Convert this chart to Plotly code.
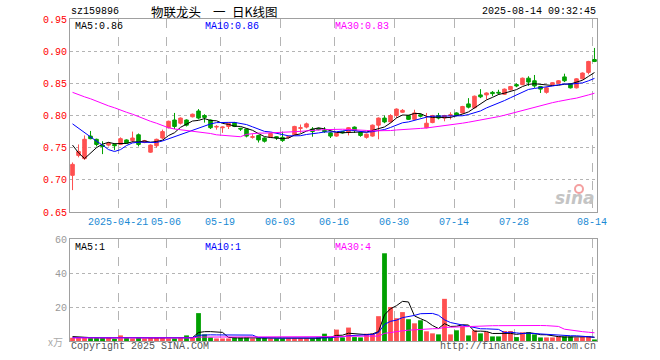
import plotly.graph_objects as go
import pandas as pd

# ---------------- data ----------------
tick_index = [8, 16, 25, 35, 44, 54, 64, 74, 87]
tick_labels = ["2025-04-21", "05-06", "05-19", "06-03", "06-16", "06-30", "07-14", "07-28", "08-14"]

opens = [0.707, 0.738, 0.733, 0.768, 0.763, 0.754, 0.754, 0.755, 0.755, 0.762,
         0.761, 0.770, 0.758, 0.743, 0.753, 0.765, 0.781, 0.793, 0.788, 0.793,
         0.798, 0.807, 0.800, 0.793, 0.782, 0.781, 0.783, 0.789, 0.780, 0.779,
         0.766, 0.769, 0.765, 0.766, 0.767, 0.766, 0.766, 0.770, 0.780, 0.782,
         0.779, 0.780, 0.777, 0.773, 0.768, 0.775, 0.774, 0.782, 0.774, 0.766,
         0.768, 0.785, 0.796, 0.790, 0.800, 0.805, 0.800, 0.794, 0.801, 0.781,
         0.789, 0.800, 0.796, 0.800, 0.804, 0.804, 0.818, 0.812, 0.832, 0.832,
         0.836, 0.836, 0.833, 0.840, 0.848, 0.848, 0.858, 0.854, 0.845, 0.836,
         0.848, 0.850, 0.860, 0.849, 0.843, 0.857, 0.867, 0.887]
highs = [0.727, 0.755, 0.769, 0.776, 0.764, 0.760, 0.759, 0.757, 0.766, 0.763,
         0.775, 0.772, 0.762, 0.755, 0.764, 0.778, 0.792, 0.804, 0.797, 0.794,
         0.803, 0.810, 0.802, 0.794, 0.785, 0.783, 0.789, 0.790, 0.781, 0.780,
         0.771, 0.770, 0.766, 0.773, 0.768, 0.775, 0.769, 0.784, 0.786, 0.789,
         0.782, 0.781, 0.782, 0.774, 0.773, 0.776, 0.782, 0.783, 0.775, 0.772,
         0.786, 0.797, 0.800, 0.802, 0.811, 0.810, 0.801, 0.809, 0.803, 0.804,
         0.801, 0.804, 0.801, 0.805, 0.805, 0.815, 0.827, 0.831, 0.841, 0.836,
         0.838, 0.840, 0.842, 0.846, 0.850, 0.859, 0.861, 0.863, 0.846, 0.844,
         0.852, 0.855, 0.865, 0.850, 0.858, 0.867, 0.885, 0.905]
lows = [0.684, 0.735, 0.731, 0.763, 0.752, 0.740, 0.752, 0.746, 0.754, 0.756,
        0.758, 0.752, 0.757, 0.742, 0.750, 0.763, 0.780, 0.779, 0.786, 0.783,
        0.797, 0.794, 0.789, 0.779, 0.778, 0.773, 0.779, 0.782, 0.776, 0.766,
        0.764, 0.758, 0.758, 0.765, 0.762, 0.759, 0.764, 0.769, 0.773, 0.780,
        0.767, 0.777, 0.773, 0.765, 0.767, 0.772, 0.769, 0.773, 0.767, 0.764,
        0.767, 0.763, 0.788, 0.789, 0.796, 0.804, 0.793, 0.793, 0.797, 0.780,
        0.788, 0.794, 0.791, 0.794, 0.799, 0.803, 0.811, 0.811, 0.827, 0.825,
        0.830, 0.832, 0.832, 0.839, 0.844, 0.847, 0.846, 0.843, 0.835, 0.834,
        0.847, 0.849, 0.852, 0.842, 0.842, 0.856, 0.864, 0.883]
closes = [0.724, 0.744, 0.763, 0.764, 0.755, 0.752, 0.757, 0.753, 0.764, 0.757,
          0.765, 0.755, 0.761, 0.754, 0.763, 0.775, 0.791, 0.783, 0.796, 0.785,
          0.802, 0.796, 0.797, 0.781, 0.783, 0.782, 0.788, 0.783, 0.779, 0.768,
          0.767, 0.762, 0.760, 0.772, 0.765, 0.761, 0.767, 0.783, 0.781, 0.787,
          0.775, 0.778, 0.775, 0.768, 0.772, 0.773, 0.781, 0.777, 0.769, 0.771,
          0.785, 0.796, 0.790, 0.800, 0.810, 0.808, 0.794, 0.804, 0.799, 0.788,
          0.800, 0.796, 0.800, 0.801, 0.800, 0.814, 0.813, 0.830, 0.829, 0.835,
          0.834, 0.835, 0.841, 0.845, 0.846, 0.858, 0.852, 0.846, 0.841, 0.843,
          0.851, 0.854, 0.854, 0.843, 0.857, 0.866, 0.884, 0.884]
volumes = [1.9, 1.9, 1.9, 1.9, 1.9, 1.9, 1.9, 1.2, 3.3, 2.1,
           1.5, 2.1, 1.5, 1.9, 1.9, 1.9, 1.5, 1.5, 1.9, 3.3,
           1.9, 16.4, 3.9, 2.1, 1.5, 1.5, 1.5, 2.1, 2.1, 2.1,
           1.5, 1.9, 1.9, 1.5, 1.5, 1.5, 1.5, 1.5, 1.5, 1.5,
           1.5, 2.1, 4.3, 1.9, 6.7, 2.1, 7.9, 2.3, 2.1, 4.3,
           4.3, 14.6, 51.6, 20.0, 13.4, 17.0, 12.8, 10.4, 12.2, 5.7,
           4.5, 3.9, 24.8, 3.9, 6.3, 8.7, 3.3, 6.3, 4.5, 5.3,
           2.7, 2.7, 5.9, 5.9, 2.3, 5.1, 5.1, 3.9, 2.1, 2.1,
           2.1, 2.7, 2.7, 2.7, 2.1, 2.3, 2.7, 0.9]

# moving-average values at the left edge (they depend on days before the window)
ma5_head = [0.754, 0.742, 0.733, 0.742]
ma10_head = [0.787, 0.780, 0.773, 0.767, 0.760, 0.754, 0.747, 0.744, 0.747]
ma30_head = [0.836, 0.832, 0.829, 0.826, 0.822, 0.819, 0.815, 0.812, 0.808, 0.805,
             0.802, 0.798, 0.794, 0.791, 0.788, 0.784, 0.781, 0.779, 0.778, 0.777,
             0.776, 0.775, 0.773, 0.772, 0.770, 0.769, 0.768, 0.767, 0.767]
vma5_head = [2.6, 2.6, 2.2, 2.0]
vma10_head = [2.0, 2.0, 1.9, 1.9, 1.9, 1.9, 1.9, 1.9, 1.9]
vma30_head = [1.8, 1.8, 1.8, 1.8, 1.8, 1.8, 1.8, 1.8, 1.8, 1.8,
              1.8, 1.8, 1.8, 1.8, 1.8, 1.8, 1.8, 1.8, 1.8, 1.8,
              1.8, 2.3, 2.3, 2.3, 2.3, 2.3, 2.3, 2.3, 2.3]

legend_price = ["MA5:0.86", "MA10:0.86", "MA30:0.83"]
legend_vol = ["MA5:1", "MA10:1", "MA30:4"]


def moving(values, n, head):
    s = pd.Series(values).rolling(n).mean().tolist()
    return list(head) + s[len(head):]


idx = list(range(len(closes)))
ma5 = moving(closes, 5, ma5_head)
ma10 = moving(closes, 10, ma10_head)
ma30 = moving(closes, 30, ma30_head)
vma5 = moving(volumes, 5, vma5_head)
vma10 = moving(volumes, 10, vma10_head)
vma30 = moving(volumes, 30, vma30_head)

UP = "#ff5050"
DOWN = "#00a000"
vol_colors = [UP if c >= o else DOWN for o, c in zip(opens, closes)]

fig = go.Figure()
fig.add_trace(go.Candlestick(
    x=idx, open=opens, high=highs, low=lows, close=closes,
    increasing=dict(line=dict(color=UP, width=1), fillcolor=UP),
    decreasing=dict(line=dict(color=DOWN, width=1), fillcolor=DOWN),
    whiskerwidth=0, xaxis="x", yaxis="y", hoverinfo="skip"))
for vals, col in [(ma5, "black"), (ma10, "#0000ff"), (ma30, "#ff00ff")]:
    fig.add_trace(go.Scatter(x=idx, y=vals, mode="lines", line=dict(color=col, width=1),
                             xaxis="x", yaxis="y", hoverinfo="skip"))

fig.add_trace(go.Bar(x=idx, y=volumes, marker=dict(color=vol_colors, line=dict(width=0)),
                     width=0.8, xaxis="x2", yaxis="y2", hoverinfo="skip"))
for vals, col in [(vma5, "black"), (vma10, "#0000ff"), (vma30, "#ff00ff")]:
    fig.add_trace(go.Scatter(x=idx, y=vals, mode="lines", line=dict(color=col, width=1),
                             xaxis="x2", yaxis="y2", hoverinfo="skip"))

# ---------------- layout ----------------
PL, PR, PT, PB = 70, 597, 19, 341
PW, PH = PR - PL, PB - PT


def fx(x):
    return (x - PL) / PW


def fy(y):
    return (PB - y) / PH


MONO = "Liberation Mono"
CJK = "Noto Sans CJK SC"
FRAME = "#a0a0a0"
GRID = "#b4b4b4"
xr = [-0.42, len(closes) - 1 + 0.42]
tickpos = [t - 0.4 for t in tick_index]

common_x = dict(range=xr, tickvals=tickpos, showgrid=True, gridcolor=GRID, griddash="dash",
                gridwidth=1, showline=True, mirror=True, linecolor=FRAME, linewidth=1,
                ticks="", zeroline=False, fixedrange=True)

fig.update_layout(
    width=660, height=360,
    margin=dict(l=PL, r=660 - PR, t=PT, b=360 - PB),
    paper_bgcolor="white", plot_bgcolor="white",
    showlegend=False, boxgap=0.15, bargap=0.2,
    xaxis=dict(**common_x, domain=[0, 1], anchor="y", ticktext=tick_labels,
               tickfont=dict(family=MONO, size=10, color="#1a8ad4"),
               rangeslider=dict(visible=False)),
    yaxis=dict(domain=[fy(212), 1], range=[0.65, 0.95],
               tickvals=[0.65, 0.70, 0.75, 0.80, 0.85, 0.90, 0.95],
               ticktext=["0.65", "0.70", "0.75", "0.80", "0.85", "0.90", "0.95"],
               tickfont=dict(family=MONO, size=10, color="#ff0000"),
               showgrid=True, gridcolor=GRID, griddash="dot", gridwidth=1,
               showline=True, mirror=True, linecolor=FRAME, linewidth=1,
               ticks="", zeroline=False, fixedrange=True),
    xaxis2=dict(**common_x, domain=[0, 1], anchor="y2", matches="x", showticklabels=False),
    yaxis2=dict(domain=[0, fy(239)], range=[0, 60], tickvals=[20, 40, 60],
                ticktext=["20", "40", "60"],
                tickfont=dict(family=MONO, size=10, color="#999999"),
                showgrid=True, gridcolor=GRID, griddash="dot", gridwidth=1,
                showline=True, mirror=True, linecolor=FRAME, linewidth=1,
                ticks="", zeroline=False, fixedrange=True),
)

ann = []


def text(x, y, s, color="black", size=10, family=MONO, xanchor="left", **kw):
    ann.append(dict(x=fx(x), y=fy(y), xref="paper", yref="paper", text=s, showarrow=False,
                    xanchor=xanchor, yanchor="middle", borderpad=0,
                    font=dict(family=family, size=size, color=color, **kw)))


text(70, 12, "sz159896")
text(150, 11.5, "物联龙头", size=12.5, family=CJK)
text(212, 11.5, "一", size=12.5, family=CJK)
text(231, 11.5, "日K线图", size=12.5, family=CJK)
text(597, 12, "2025-08-14 09:32:45", xanchor="right")
for s, x, col in zip(legend_price, [74, 204, 334], ["black", "#0000ff", "#ff00ff"]):
    text(x, 26.5, s, color=col)
for s, x, col in zip(legend_vol, [74, 204, 334], ["black", "#0000ff", "#ff00ff"]):
    text(x, 247, s, color=col)
text(64, 341, "x万", color="#aaaaaa", size=10, family=CJK, xanchor="right")
text(70, 346.5, "Copyright 2025 SINA.COM", color="#555555")
text(597, 346.5, "http://finance.sina.com.cn", color="#555555", xanchor="right")
text(596, 198, "sina", color="#c4c4c4", size=17, family="DejaVu Sans", xanchor="right",
     style="italic", weight="bold")
fig.update_layout(annotations=ann)
fig.add_shape(type="circle", xref="paper", yref="paper",
              x0=fx(575), x1=fx(583), y0=fy(193), y1=fy(185),
              line=dict(color="#f4a0a0", width=2))

fig.write_html("out.html", config={"displayModeBar": False, "staticPlot": True},
               post_script="document.body.style.margin='0px';document.body.style.overflow='hidden';")
